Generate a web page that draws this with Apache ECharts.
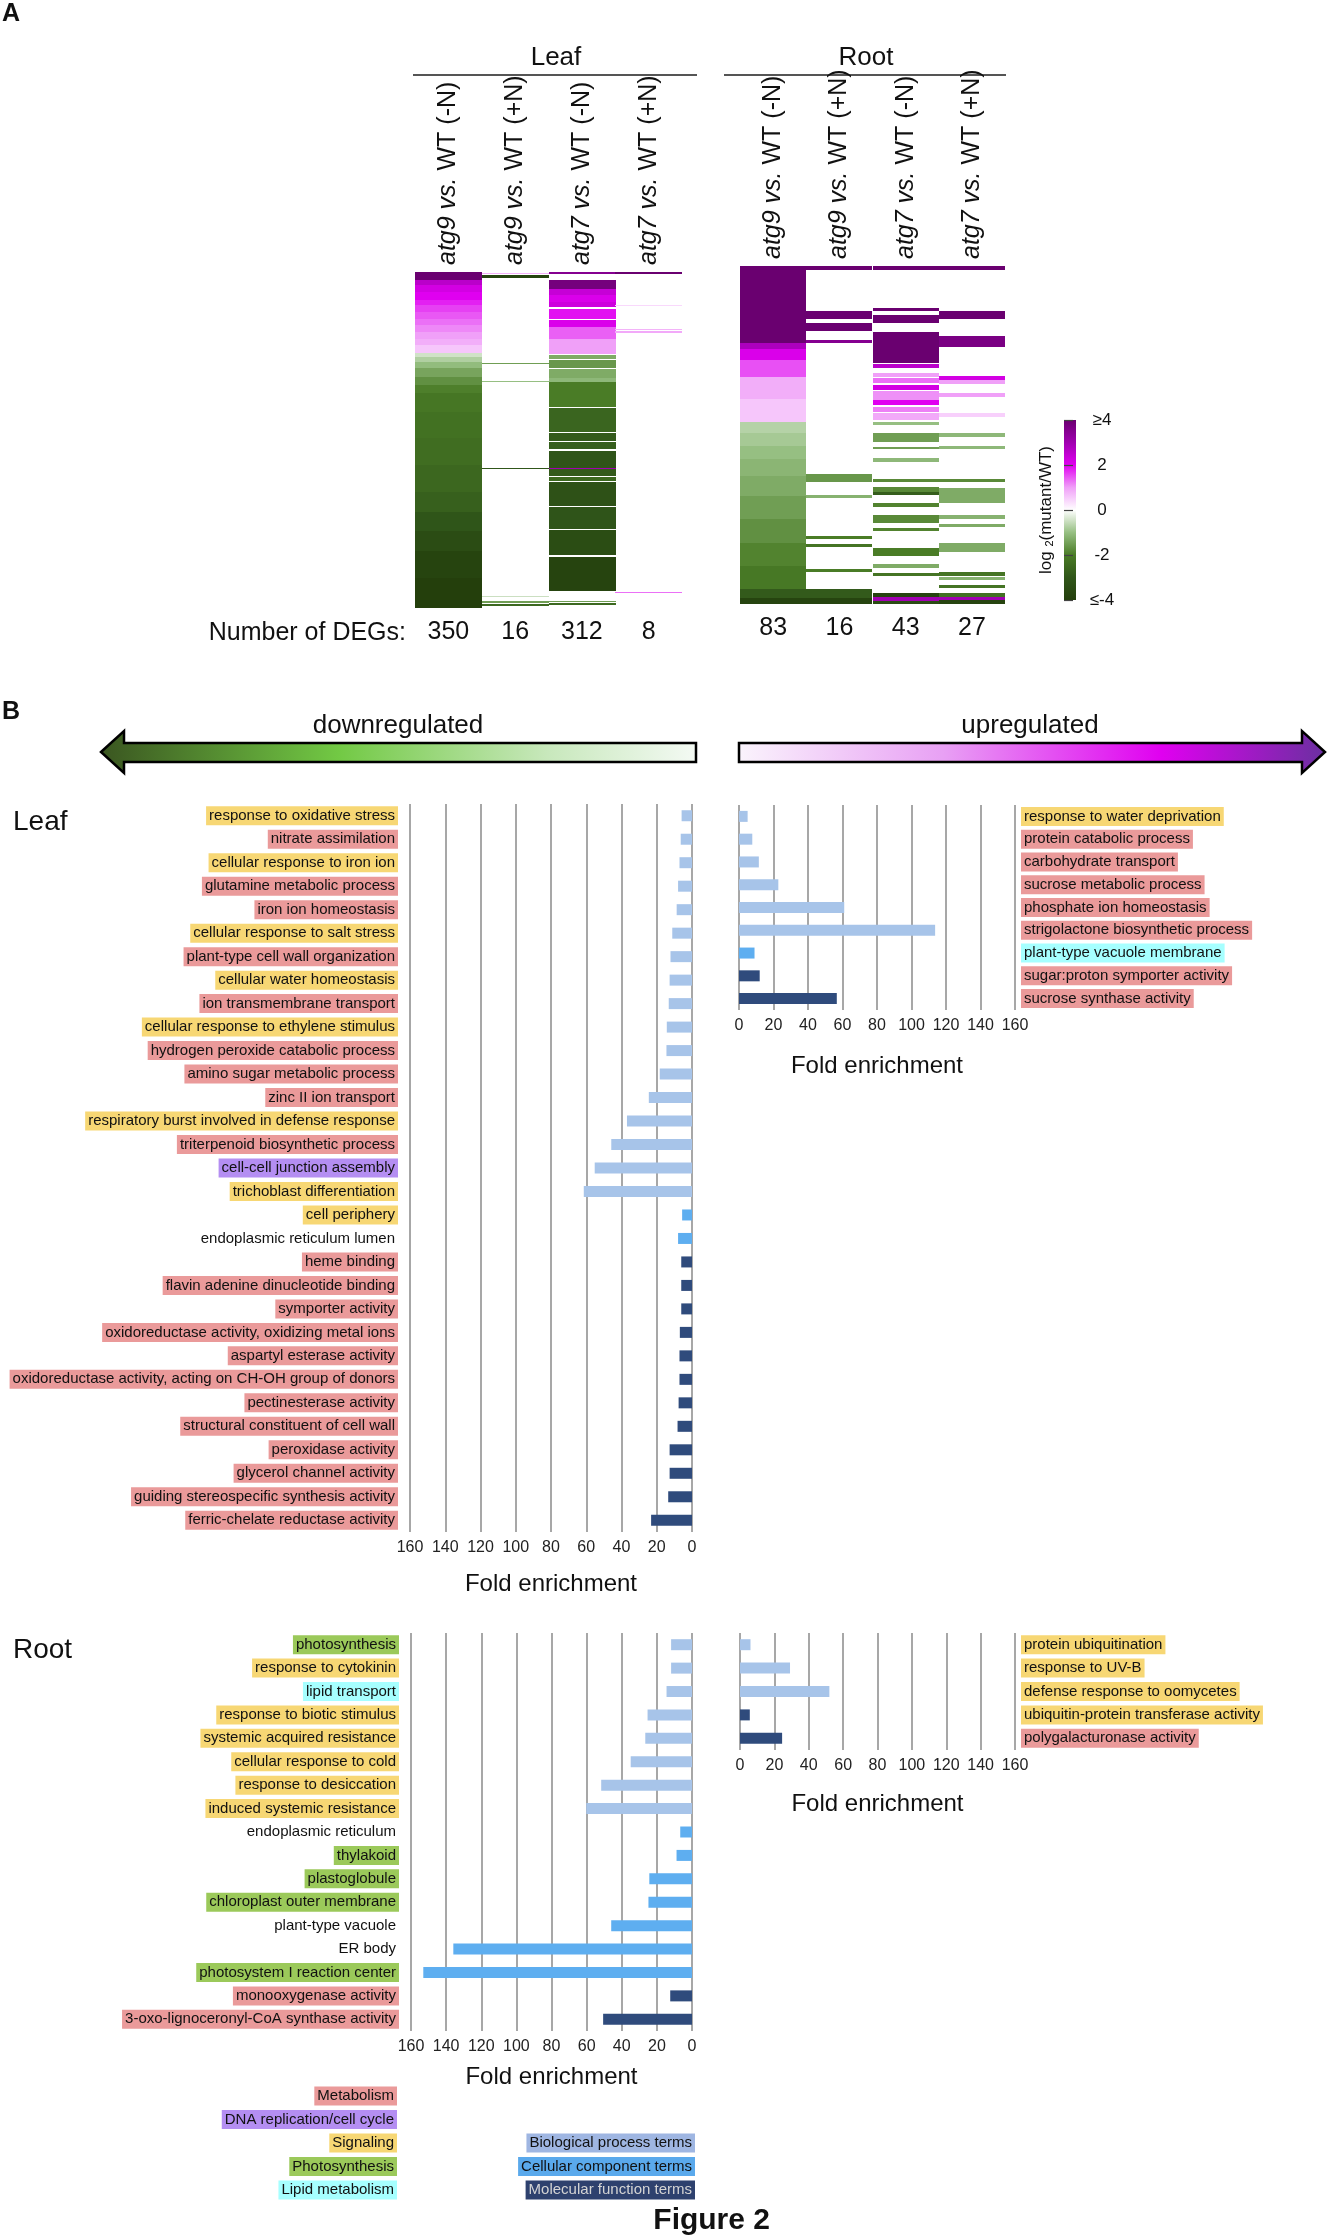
<!DOCTYPE html>
<html><head><meta charset="utf-8">
<script src="https://cdn.jsdelivr.net/npm/echarts@6/dist/echarts.min.js"></script>
<style>html,body{margin:0;padding:0;background:#fff}#c{width:1330px;height:2238px}</style>
</head><body><div id="c"></div><script>
// ---------------- DATA ----------------
const heatColumns = ['atg9 vs. WT (-N)', 'atg9 vs. WT (+N)', 'atg7 vs. WT (-N)', 'atg7 vs. WT (+N)'];
const leafDEGs = [350, 16, 312, 8];
const rootDEGs = [83, 16, 43, 27];
const leafRows = 1010;
const rootRows = 1014;
// blocks of rows: [startRank, endRank, log2(mutant/WT)]
const leafAtg9MinusN = [[0,24,4],[24,40,2.6],[40,60,2.2],[60,84,2.0],[84,100,1.8],[100,120,1.6],[120,140,1.45],[140,160,1.3],[160,180,1.15],[180,200,1.0],[200,220,0.85],[220,243,0.6],[243,255,-0.45],[255,270,-0.75],[270,290,-1.05],[290,315,-1.4],[315,340,-1.7],[340,365,-1.95],[365,420,-2.15],[420,500,-2.3],[500,580,-2.4],[580,660,-2.55],[660,720,-2.75],[720,780,-3.05],[780,840,-3.45],[840,920,-3.8],[920,1010,-4]];
const leafAtg9PlusN = [[2,6,0.8],[9,18,-3.8],[273,276,-1.5],[328,331,-1.0],[588,591,-3.0],[973,977,-0.5],[990,994,-1.5],[998,1003,-2.5]];
const leafAtg7MinusN = [[0,5,3.5],[24,50,3.8],[50,70,2.4],[70,90,2.1],[90,105,2.3],[110,140,1.9],[144,165,2.1],[165,200,1.4],[200,245,1.0],[248,262,-1.3],[265,290,-1.6],[293,320,-1.3],[320,330,-1.1],[330,405,-2.0],[410,480,-2.6],[484,508,-2.9],[511,533,-2.8],[537,588,-3.1],[588,592,3.0],[592,612,-2.9],[617,628,-2.5],[632,702,-3.2],[706,772,-3.1],[776,852,-3.4],[856,960,-3.8],[988,992,-1.5],[995,1000,-2.5]];
const leafAtg7PlusN = [[0,6,4],[98,102,0.4],[171,175,0.8],[178,182,0.9],[961,965,1.3]];
const rootAtg9MinusN = [[0,232,4],[232,250,2.8],[250,282,2.1],[282,332,1.5],[332,400,0.85],[400,467,0.6],[467,500,-0.7],[500,540,-0.85],[540,580,-1.0],[580,630,-1.15],[630,690,-1.3],[690,760,-1.5],[760,830,-1.7],[830,900,-1.9],[900,970,-2.1],[970,995,-2.9],[995,1014,-3.8]];
const rootAtg9PlusN = [[0,12,4],[135,160,4],[172,195,4],[222,230,3.5],[625,647,-1.6],[687,697,-1.2],[810,820,-2.0],[834,844,-2.2],[910,919,-2.0],[970,995,-2.9],[995,1014,-3.8]];
const rootAtg7MinusN = [[0,12,4],[125,135,4],[147,172,4],[197,292,4],[295,305,2.6],[322,332,1.0],[337,352,1.3],[357,372,2.2],[374,402,1.1],[402,417,2.0],[422,437,1.2],[442,462,0.9],[467,477,-1.0],[502,527,-1.5],[542,550,-1.5],[577,587,-1.1],[639,647,-1.8],[664,677,-1.8],[677,687,-2.8],[712,722,-1.9],[747,772,-1.8],[785,795,-1.9],[845,870,-2.0],[895,905,-1.3],[920,930,-2.2],[980,992,-3.8],[992,1004,3.0],[1004,1014,-3.5]];
const rootAtg7PlusN = [[0,12,4],[135,160,4],[210,244,3.7],[330,342,2.2],[342,354,1.0],[380,392,1.0],[442,452,0.5],[502,512,-1.1],[540,550,-1.1],[639,647,-1.8],[665,710,-1.3],[747,759,-1.2],[774,784,-1.3],[832,857,-1.3],[919,930,-2.2],[932,942,-1.2],[957,967,-2.2],[980,992,-2.3],[992,1002,3.0],[1002,1014,-3.8]];
const colorbarTicks = [4, 2, 0, -2, -4];

const leafDownTerms = ['response to oxidative stress','nitrate assimilation','cellular response to iron ion','glutamine metabolic process','iron ion homeostasis','cellular response to salt stress','plant-type cell wall organization','cellular water homeostasis','ion transmembrane transport','cellular response to ethylene stimulus','hydrogen peroxide catabolic process','amino sugar metabolic process','zinc II ion transport','respiratory burst involved in defense response','triterpenoid biosynthetic process','cell-cell junction assembly','trichoblast differentiation','cell periphery','endoplasmic reticulum lumen','heme binding','flavin adenine dinucleotide binding','symporter activity','oxidoreductase activity, oxidizing metal ions','aspartyl esterase activity','oxidoreductase activity, acting on CH-OH group of donors','pectinesterase activity','structural constituent of cell wall','peroxidase activity','glycerol channel activity','guiding stereospecific synthesis activity','ferric-chelate reductase activity'];
const leafDownFold = [5.9,6.4,7.1,7.9,8.7,11.2,12.2,12.7,13.2,14.3,14.5,18.3,24.5,36.9,45.8,55.2,61.4,5.6,7.9,6.1,6.1,6.1,6.9,7.1,7.1,7.6,8.2,12.7,12.7,13.5,23.2];
const leafDownGO = ['BP','BP','BP','BP','BP','BP','BP','BP','BP','BP','BP','BP','BP','BP','BP','BP','BP','CC','CC','MF','MF','MF','MF','MF','MF','MF','MF','MF','MF','MF','MF'];
const leafDownFunc = ['sig','met','sig','met','met','sig','met','sig','met','sig','met','met','met','sig','met','dna','sig','sig','none','met','met','met','met','met','met','met','met','met','met','met','met'];

const leafUpTerms = ['response to water deprivation','protein catabolic process','carbohydrate transport','sucrose metabolic process','phosphate ion homeostasis','strigolactone biosynthetic process','plant-type vacuole membrane','sugar:proton symporter activity','sucrose synthase activity'];
const leafUpFold = [5.0,7.7,11.5,22.8,61,113.7,9.0,12,56.7];
const leafUpGO = ['BP','BP','BP','BP','BP','BP','CC','MF','MF'];
const leafUpFunc = ['sig','met','met','met','met','met','lip','met','met'];

const rootDownTerms = ['photosynthesis','response to cytokinin','lipid transport','response to biotic stimulus','systemic acquired resistance','cellular response to cold','response to desiccation','induced systemic resistance','endoplasmic reticulum','thylakoid','plastoglobule','chloroplast outer membrane','plant-type vacuole','ER body','photosystem I reaction center','monooxygenase activity','3-oxo-lignoceronyl-CoA synthase activity'];
const rootDownFold = [11.9,11.9,14.5,25.3,26.6,34.9,51.7,60.2,6.7,8.8,24.3,24.8,46,135.9,153,12.4,50.6];
const rootDownGO = ['BP','BP','BP','BP','BP','BP','BP','BP','CC','CC','CC','CC','CC','CC','CC','MF','MF'];
const rootDownFunc = ['pho','sig','lip','sig','sig','sig','sig','sig','none','pho','pho','pho','none','none','pho','met','met'];

const rootUpTerms = ['protein ubiquitination','response to UV-B','defense response to oomycetes','ubiquitin-protein transferase activity','polygalacturonase activity'];
const rootUpFold = [6.1,29.1,52,5.7,24.5];
const rootUpGO = ['BP','BP','BP','MF','MF'];
const rootUpFunc = ['sig','sig','sig','sig','met'];

const funcLegend = [['met','Metabolism'],['dna','DNA replication/cell cycle'],['sig','Signaling'],['pho','Photosynthesis'],['lip','Lipid metabolism']];
const goLegend = [['BP','Biological process terms'],['CC','Cellular component terms'],['MF','Molecular function terms']];
const foldTicks = {min: 0, max: 160, interval: 20};

// ---------------- STYLE ----------------
const FONT = "'Liberation Sans', Arial, Helvetica, sans-serif";
const heatColors = ['#243f0c','#30561a','#4a7c26','#96bf82','#ffffff','#f0a0f8','#e000f0','#a000b0','#6a0070'];
const goColors = {BP:'#a7c4e9', CC:'#5eaef0', MF:'#2f4b7c'};
const goLegendColors = {BP:'#9fb6e2', CC:'#5aa9ec', MF:'#2e416e'};
const funcColors = {met:'#ea9a9a', dna:'#b48ef2', sig:'#f7d774', pho:'#9bc95a', lip:'#a6ffff', none:'transparent'};

const funcRich = {};
Object.keys(funcColors).forEach(k => {
  funcRich[k] = {backgroundColor: funcColors[k], padding: [2,3,2,3], fontSize: 15, lineHeight: 15, color: '#111', fontFamily: FONT};
});

function heatData(cols) {
  const out = [];
  cols.forEach((arr, ci) => arr.forEach(b => out.push([ci, b[0], b[1], b[2]])));
  return out;
}
function renderHeat(params, api) {
  const c = api.value(0);
  const p0 = api.coord([c, api.value(1)]);
  const p1 = api.coord([c, api.value(2)]);
  const w = api.size([1, 0])[0];
  const y0 = Math.round(p0[1]);
  const y1 = Math.max(y0 + 1, Math.round(p1[1]));
  return {type: 'rect', shape: {x: Math.round(p0[0] - w / 2), y: y0, width: Math.round(w), height: y1 - y0}, style: {fill: api.visual('color')}};
}
function colLabel(v) {
  const m = v.match(/^(\S+ vs\.)(.*)$/);
  return '{i|' + m[1] + '}{n|' + m[2] + '}';
}
const heatTopAxis = (grid) => ({
  gridIndex: grid, type: 'category', position: 'top', data: heatColumns,
  axisLine: {show: false}, axisTick: {show: false},
  axisLabel: {interval: 0, rotate: 90, margin: 7, formatter: colLabel, color: '#111',
    rich: {i: {fontStyle: 'italic', fontSize: 25, fontFamily: FONT, color: '#111'}, n: {fontSize: 25, fontFamily: FONT, color: '#111'}}}
});
const heatBottomAxis = (grid, counts) => ({
  gridIndex: grid, type: 'category', position: 'bottom', data: counts.map(String),
  axisLine: {show: false}, axisTick: {show: false},
  axisLabel: {interval: 0, margin: 12, fontSize: 25, fontFamily: FONT, color: '#111'}
});
const foldAxis = (grid, inverse, gap) => ({
  gridIndex: grid, type: 'value', min: foldTicks.min, max: foldTicks.max, interval: foldTicks.interval, inverse: inverse,
  axisLine: {show: false}, axisTick: {show: false},
  axisLabel: {fontSize: 16, fontFamily: FONT, color: '#222', margin: 8},
  splitLine: {show: true, lineStyle: {color: '#8a8a8a', width: 1.5}},
  name: 'Fold enrichment', nameLocation: 'middle', nameGap: gap,
  nameTextStyle: {fontSize: 24, fontFamily: FONT, color: '#111'}
});
const termAxis = (grid, terms, funcs, pos) => ({
  gridIndex: grid, type: 'category', data: terms, inverse: true, position: pos,
  axisLine: {show: false}, axisTick: {show: false}, splitLine: {show: false},
  axisLabel: {interval: 0, margin: pos === 'left' ? 12 : 6, formatter: (v, i) => '{' + funcs[i] + '|' + v + '}', rich: funcRich}
});
const barSeries = (xi, yi, vals, gos) => ({
  type: 'bar', xAxisIndex: xi, yAxisIndex: yi, barWidth: 11, silent: true,
  data: vals.map((v, i) => ({value: v, itemStyle: {color: goColors[gos[i]]}}))
});

const txt = (x, y, text, o) => Object.assign({type: 'text', x: x, y: y, style: Object.assign({text: text, fontSize: 15, fontFamily: FONT, fill: '#111', align: 'left', verticalAlign: 'middle'}, o || {})});

const graphics = [
  txt(2, 14, 'A', {fontSize: 25, fontWeight: 'bold'}),
  txt(556, 58, 'Leaf', {fontSize: 26, align: 'center'}),
  {type: 'line', shape: {x1: 413, y1: 75, x2: 697, y2: 75}, style: {stroke: '#555', lineWidth: 2}},
  txt(866, 58, 'Root', {fontSize: 26, align: 'center'}),
  {type: 'line', shape: {x1: 724, y1: 75, x2: 1006, y2: 75}, style: {stroke: '#555', lineWidth: 2}},
  txt(406, 633, 'Number of DEGs:', {fontSize: 25, align: 'right'}),
  {type: 'rect', shape: {x: 1064, y: 420, width: 12, height: 180},
    style: {fill: {type: 'linear', x: 0, y: 0, x2: 0, y2: 1,
      colorStops: heatColors.slice().reverse().map((c, i, a) => ({offset: i / (a.length - 1), color: c}))}}},
  {type: 'text', x: 1046, y: 510, rotation: Math.PI / 2,
    style: {text: '{a|log }{s|2}{a|(mutant/WT)}', align: 'center', verticalAlign: 'middle',
      rich: {a: {fontSize: 17, fontFamily: FONT, fill: '#111', color: '#111'}, s: {fontSize: 11, fontFamily: FONT, color: '#111', padding: [7, 0, 0, 0]}}}},
  txt(2, 712, 'B', {fontSize: 25, fontWeight: 'bold'}),
  {type: 'polygon', shape: {points: [[101,752],[124,731],[124,743],[696,743],[696,762],[124,762],[124,773]]},
    style: {stroke: '#000', lineWidth: 2.5, fill: {type: 'linear', x: 0, y: 0, x2: 1, y2: 0,
      colorStops: [{offset: 0, color: '#3a5520'}, {offset: 0.4, color: '#72c944'}, {offset: 0.75, color: '#c8e8bc'}, {offset: 1, color: '#f4faf4'}]}}},
  {type: 'polygon', shape: {points: [[739,743],[1302,743],[1302,731],[1325,752],[1302,773],[1302,762],[739,762]]},
    style: {stroke: '#000', lineWidth: 2.5, fill: {type: 'linear', x: 0, y: 0, x2: 1, y2: 0,
      colorStops: [{offset: 0, color: '#faf4fc'}, {offset: 0.35, color: '#e8a0f4'}, {offset: 0.72, color: '#e000f0'}, {offset: 1, color: '#6a30a0'}]}}},
  txt(398, 726, 'downregulated', {fontSize: 26, align: 'center'}),
  txt(1030, 726, 'upregulated', {fontSize: 26, align: 'center'}),
  txt(13, 822, 'Leaf', {fontSize: 28}),
  txt(13, 1650, 'Root', {fontSize: 28}),
  txt(770, 2221, 'Figure 2', {fontSize: 30, fontWeight: 'bold', align: 'right'})
];
funcLegend.forEach((f, i) => graphics.push(txt(397, 2096 + i * 23.5, f[1], {align: 'right', backgroundColor: funcColors[f[0]], padding: [2, 3, 2, 3]})));
goLegend.forEach((g, i) => graphics.push(txt(695, 2143 + i * 23.5, g[1], {align: 'right', backgroundColor: goLegendColors[g[0]], padding: [2, 3, 2, 3], fill: g[0] === 'MF' ? '#d4d4d4' : '#111'})));

const option = {
  animation: false,
  backgroundColor: '#fff',
  textStyle: {fontFamily: FONT},
  grid: [
    {left: 415, top: 272, width: 267, height: 336},
    {left: 740, top: 266, width: 265, height: 338},
    {left: 1064, top: 420, width: 12, height: 180},
    {left: 410, top: 804, width: 282, height: 728},
    {left: 739, top: 805, width: 276, height: 205},
    {left: 411, top: 1633, width: 281, height: 398},
    {left: 740, top: 1633, width: 275, height: 117}
  ],
  xAxis: [
    heatTopAxis(0), heatBottomAxis(0, leafDEGs),
    heatTopAxis(1), heatBottomAxis(1, rootDEGs),
    {gridIndex: 2, type: 'value', show: false, min: 0, max: 1},
    foldAxis(3, true, 40), foldAxis(4, false, 44), foldAxis(5, true, 34), foldAxis(6, false, 42)
  ],
  yAxis: [
    {gridIndex: 0, type: 'value', min: 0, max: leafRows, inverse: true, show: false},
    {gridIndex: 1, type: 'value', min: 0, max: rootRows, inverse: true, show: false},
    {gridIndex: 2, type: 'value', min: -4, max: 4, interval: 2, position: 'right',
      axisLine: {show: false}, splitLine: {show: false},
      axisTick: {show: true, length: 9, lineStyle: {color: '#444', width: 1.2}},
      axisLabel: {fontSize: 17, fontFamily: FONT, color: '#111', margin: 26, align: 'center',
        formatter: v => colorbarTicks.indexOf(v) < 0 ? '' : (v === 4 ? '≥4' : v === -4 ? '≤-4' : String(v))}},
    termAxis(3, leafDownTerms, leafDownFunc, 'left'),
    termAxis(4, leafUpTerms, leafUpFunc, 'right'),
    termAxis(5, rootDownTerms, rootDownFunc, 'left'),
    termAxis(6, rootUpTerms, rootUpFunc, 'right')
  ],
  visualMap: {type: 'continuous', show: false, min: -4, max: 4, dimension: 3, seriesIndex: [0, 1], inRange: {color: heatColors}},
  series: [
    {type: 'custom', xAxisIndex: 0, yAxisIndex: 0, renderItem: renderHeat, encode: {x: 0, y: [1, 2]}, silent: true,
      data: heatData([leafAtg9MinusN, leafAtg9PlusN, leafAtg7MinusN, leafAtg7PlusN])},
    {type: 'custom', xAxisIndex: 2, yAxisIndex: 1, renderItem: renderHeat, encode: {x: 0, y: [1, 2]}, silent: true,
      data: heatData([rootAtg9MinusN, rootAtg9PlusN, rootAtg7MinusN, rootAtg7PlusN])},
    barSeries(5, 3, leafDownFold, leafDownGO),
    barSeries(6, 4, leafUpFold, leafUpGO),
    barSeries(7, 5, rootDownFold, rootDownGO),
    barSeries(8, 6, rootUpFold, rootUpGO)
  ],
  graphic: graphics
};
const chart = echarts.init(document.getElementById('c'), null, {renderer: 'canvas'});
chart.setOption(option);
</script></body></html>
